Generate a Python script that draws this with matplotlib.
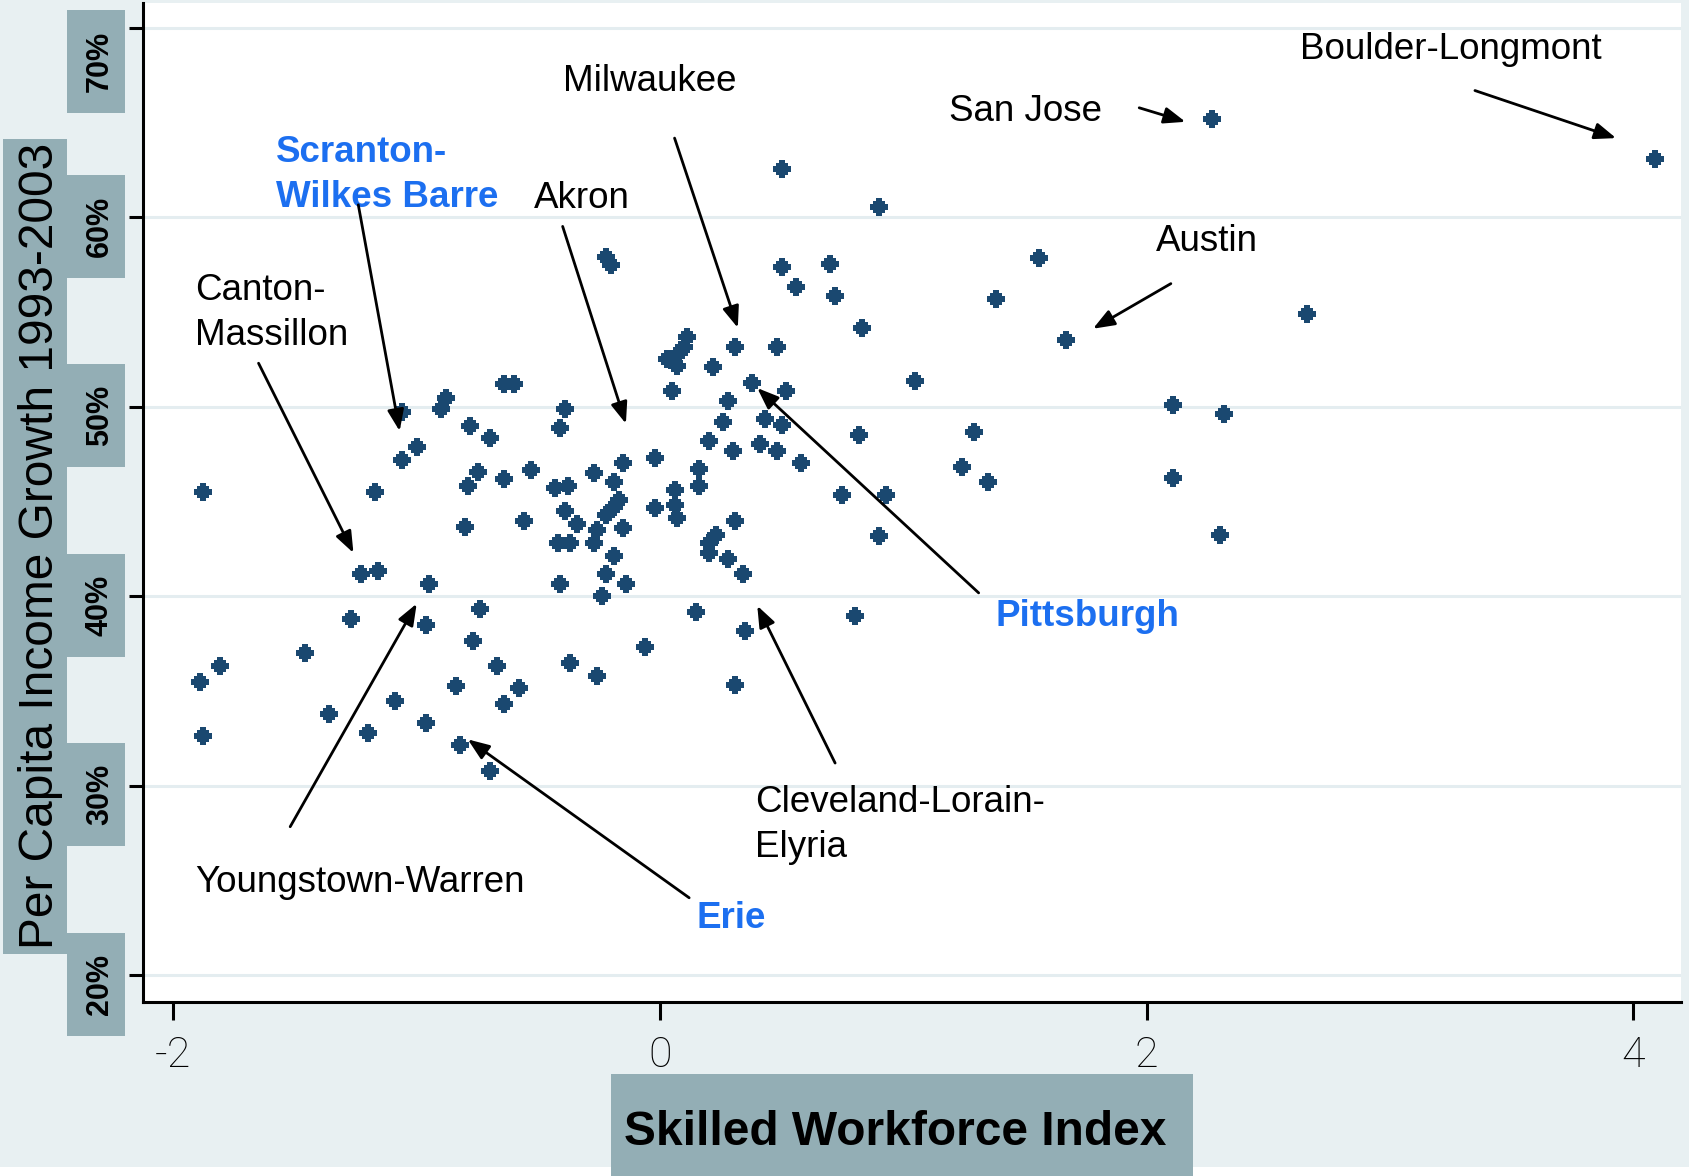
import matplotlib
matplotlib.use("Agg")
import matplotlib.pyplot as plt
from matplotlib.patches import Rectangle
from matplotlib import transforms

# --- data (skill index, income growth in %) ---
skill_index = [
    -1.88, -0.64, -0.60, -1.06, -0.88, -0.90, -0.78, -0.70, -1.00, -1.06,
    -0.75, -0.79, -0.64, -0.53, -1.17, -0.80, -0.56, -1.23, -1.16, -0.95,
    -1.27, -0.74, -0.96, -0.77, -1.46, -1.81, -1.89, -0.67, -0.84, -0.58,
    -0.64, -1.09, -1.36, -1.88, -1.20, -0.96, -0.82, -0.70,
    -0.22, -0.20, 0.50, 0.56, 0.11, 0.10, 0.08, 0.03, 0.07, 0.31,
    0.48, 0.22, 0.05, 0.38, 0.52, 0.28, -0.39, -0.41, 0.26, 0.43,
    0.50, 0.20, 0.41, 0.48, 0.30, 0.58, -0.02, -0.15, -0.27, 0.16,
    0.16, -0.43, -0.38, -0.19, -0.17, -0.19, -0.22, 0.06, 0.06, 0.07,
    -0.02, -0.39, -0.34, -0.15, -0.26, -0.42, -0.37, -0.27, 0.31, 0.23,
    0.20, 0.20, 0.28, 0.34, -0.19, -0.22, -0.14, -0.41, -0.24, 0.15,
    0.35, -0.06, -0.37, -0.26, 0.31,
    0.70, 0.72, 0.83, 1.05, 1.38, 1.56, 1.67, 0.82, 1.29, 1.24,
    1.35, 0.75, 0.93, 0.90, 0.80,
    0.50, 0.90,
    2.27, 4.09, 2.66, 2.11, 2.32, 2.11, 2.30,
]
income_growth = [
    45.47, 51.19, 51.19, 49.73, 50.44, 49.85, 48.99, 48.32, 47.85, 47.18,
    46.56, 45.81, 46.16, 46.65, 45.47, 43.63, 43.96, 41.15, 41.34, 40.64,
    38.79, 39.32, 38.47, 37.63, 36.98, 36.31, 35.48, 36.31, 35.27, 35.13,
    34.30, 34.46, 33.78, 32.61, 32.76, 33.28, 32.14, 30.78,
    57.91, 57.47, 57.35, 56.32, 53.69, 53.13, 52.81, 52.49, 52.14, 53.16,
    53.16, 52.10, 50.84, 51.23, 50.84, 50.31, 49.85, 48.85, 49.18, 49.34,
    49.03, 48.18, 48.02, 47.65, 47.65, 47.01, 47.30, 47.01, 46.48, 46.69,
    45.81, 45.69, 45.81, 46.00, 45.07, 44.68, 44.28, 45.60, 44.80, 44.10,
    44.63, 44.49, 43.79, 43.61, 43.49, 42.78, 42.78, 42.78, 43.96, 43.22,
    42.78, 42.29, 41.96, 41.15, 42.11, 41.15, 40.64, 40.64, 40.00, 39.14,
    38.16, 37.33, 36.45, 35.78, 35.31,
    57.51, 55.83, 54.16, 51.35, 55.66, 57.82, 53.51, 48.50, 48.67, 46.79,
    46.00, 45.33, 45.33, 43.17, 38.96,
    62.52, 60.51,
    65.20, 63.08, 54.91, 50.09, 49.59, 46.24, 43.23,
]

x_ticks = [-2, 0, 2, 4]
x_tick_labels = ["-2", "0", "2", "4"]
y_ticks = [20, 30, 40, 50, 60, 70]
y_tick_labels = ["20%", "30%", "40%", "50%", "60%", "70%"]

x_title = "Skilled Workforce Index"
y_title = "Per Capita Income Growth 1993-2003"

# city callouts: text lines, text anchor (left, baseline), arrow tail, arrow head, highlighted
callouts = [
    (["Boulder-Longmont"], (2.63, 68.32), (3.35, 66.68), (3.93, 64.17), False),
    (["San Jose"], (1.19, 65.08), (1.97, 65.77), (2.16, 65.03), False),
    (["Milwaukee"], (-0.40, 66.67), (0.06, 64.17), (0.32, 54.16), False),
    (["Scranton-", "Wilkes Barre"], (-1.58, 62.92), (-1.24, 60.65), (-1.07, 48.71), True),
    (["Akron"], (-0.52, 60.47), (-0.40, 59.51), (-0.14, 49.10), False),
    (["Austin"], (2.04, 58.19), (2.10, 56.49), (1.78, 54.11), False),
    (["Canton-", "Massillon"], (-1.91, 55.63), (-1.65, 52.29), (-1.26, 42.28), False),
    (["Pittsburgh"], (1.38, 38.42), (1.31, 40.17), (0.40, 50.98), True),
    (["Cleveland-Lorain-", "Elyria"], (0.39, 28.62), (0.72, 31.19), (0.40, 39.49), False),
    (["Youngstown-Warren"], (-1.91, 24.41), (-1.52, 27.83), (-1.00, 39.60), False),
    (["Erie"], (0.15, 22.48), (0.12, 24.08), (-0.79, 32.44), True),
]

# --- styling ---
W, H = 1690, 1176
BG = "#e8f0f2"
BOX = "#93aeb5"
GRID = "#e4edf0"
DOT = "#1a4870"
BLUE = "#1c6ff0"
FONT = "Liberation Sans"


def fx(px):
    return px / W


def fy(py):
    # py measured from the top of the image
    return 1 - py / H


fig = plt.figure(figsize=(W / 100, H / 100), dpi=100, facecolor="white")
fig.add_artist(Rectangle((0, fy(1167)), 1, 1 - fy(1167), transform=fig.transFigure,
                         facecolor=BG, edgecolor="none", zorder=0))

ax = fig.add_axes([fx(143), fy(1002), fx(1681) - fx(143), fy(3) - fy(1002)])
ax.set_facecolor("white")
ax.set_xlim(-2.125, 4.197)
ax.set_ylim(18.58, 71.30)

for v in y_ticks:
    ax.axhline(v, color=GRID, lw=2.2, zorder=1)

# pixel-ish rounded marker like the original
dot = [(-0.3, 1), (0.3, 1), (0.3, 0.7), (0.7, 0.7), (0.7, 0.3), (1, 0.3),
       (1, -0.3), (0.7, -0.3), (0.7, -0.7), (0.3, -0.7), (0.3, -1), (-0.3, -1),
       (-0.3, -0.7), (-0.7, -0.7), (-0.7, -0.3), (-1, -0.3), (-1, 0.3),
       (-0.7, 0.3), (-0.7, 0.7), (-0.3, 0.7)]
ax.scatter(skill_index, income_growth, marker=dot, s=13 ** 2, color=DOT,
           linewidths=0, zorder=3)

for side in ["top", "right"]:
    ax.spines[side].set_visible(False)
for side in ["left", "bottom"]:
    ax.spines[side].set_linewidth(2.2)
    ax.spines[side].set_color("black")

ax.set_xticks(x_ticks)
ax.set_yticks(y_ticks)
ax.tick_params(axis="x", length=13, width=2.2, labelbottom=False)
ax.tick_params(axis="y", length=10, width=2.2, labelleft=False)

# x tick labels in a thin font
xt = transforms.blended_transform_factory(ax.transData, fig.transFigure)
for v, lab in zip(x_ticks, x_tick_labels):
    ax.text(v, fy(1067), lab, transform=xt, ha="center", va="baseline",
            fontsize=31, family="Roboto", fontweight="light")

# y tick labels sit in grey boxes
for v, lab in zip(y_ticks, y_tick_labels):
    tick_px = H - ax.transData.transform((0, v))[1]
    cy = max(tick_px + 9, 61.5)
    fig.add_artist(Rectangle((fx(67), fy(cy + 51.5)), fx(58), 103 / H,
                             transform=fig.transFigure, facecolor=BOX,
                             edgecolor="none", zorder=2))
    fig.text(fx(108), fy(cy), lab, rotation=90, rotation_mode="anchor",
             ha="center", va="baseline", fontsize=22, fontweight="bold",
             family=FONT, zorder=3)

# y title box and text
fig.add_artist(Rectangle((fx(3), fy(954)), fx(64), (954 - 139) / H,
                         transform=fig.transFigure, facecolor=BOX,
                         edgecolor="none", zorder=2))
fig.text(fx(53), fy(545.5), y_title, rotation=90, rotation_mode="anchor",
         ha="center", va="baseline", fontsize=34.5, family=FONT, zorder=3)

# x title box and text
fig.add_artist(Rectangle((fx(611), 0), fx(582), (1176 - 1074) / H,
                         transform=fig.transFigure, facecolor=BOX,
                         edgecolor="none", zorder=2))
fig.text(fx(895), fy(1145), x_title, ha="center", va="baseline",
         fontsize=34.5, fontweight="bold", family=FONT, zorder=3)

# callouts
line_step = 45 / 18.95
for lines, (tx, ty), tail, head, hot in callouts:
    for i, line in enumerate(lines):
        ax.text(tx, ty - i * line_step, line, ha="left", va="baseline",
                fontsize=26.5, family=FONT,
                color=BLUE if hot else "black",
                fontweight="bold" if hot else "normal", zorder=4)
    ax.annotate("", xy=head, xytext=tail,
                arrowprops=dict(arrowstyle="-|>,head_length=0.65,head_width=0.25",
                                mutation_scale=20, lw=2, color="black",
                                shrinkA=0, shrinkB=0), zorder=4)

fig.savefig("out.png", dpi=100, facecolor=fig.get_facecolor())
